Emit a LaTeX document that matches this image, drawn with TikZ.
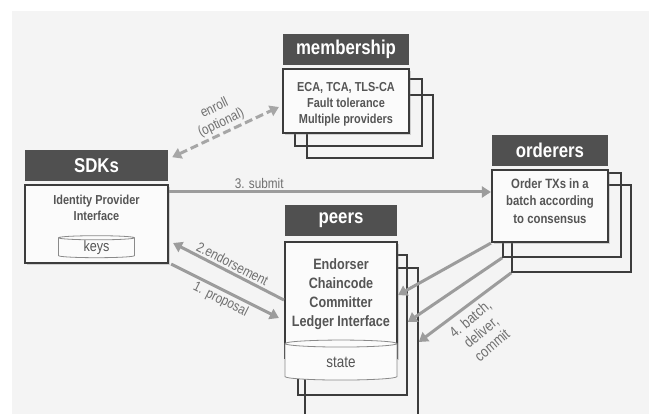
\documentclass[tikz,border=0pt]{standalone}
\usepackage{fontspec}
\setmainfont{Liberation Sans}[FakeStretch=0.84]
\usetikzlibrary{arrows.meta, positioning, calc, shapes.geometric, shadows, backgrounds}
\usepackage{xcolor}
\definecolor{bgGray}{HTML}{F4F4F4}
\definecolor{headGray}{HTML}{505050}
\definecolor{edgeGray}{HTML}{3C3C3C}
\definecolor{panelFill}{HTML}{FBFBFB}
\definecolor{textGray}{HTML}{555555}
\definecolor{arrowGray}{HTML}{9C9C9C}
\definecolor{labelGray}{HTML}{707070}
\definecolor{dbGray}{HTML}{8A8A8A}
\tikzset{
    panel/.style={rectangle, draw=edgeGray, line width=2.2pt, fill=panelFill, inner sep=0pt, drop shadow={shadow xshift=2pt, shadow yshift=-2pt, opacity=0.3}},
    header/.style={rectangle, fill=headGray, text=white, font=\bfseries\fontsize{20}{22}\selectfont, inner sep=0pt, minimum height=31pt},
    paneltext/.style={text=textGray, align=center, inner sep=0pt},
    layer/.style={rectangle, draw=edgeGray, line width=1.6pt, inner sep=0pt},
    db/.style={cylinder, shape border rotate=90, draw=dbGray, fill=panelFill, thick, inner sep=0pt, text=textGray},
    arrow/.style={-{Triangle[width=11pt,length=9pt]}, line width=3pt, draw=arrowGray},
    dashedbiarrow/.style={{Triangle[width=11pt,length=9pt]}-{Triangle[width=11pt,length=9pt]}, line width=3pt, draw=arrowGray!90, dash pattern=on 8pt off 4pt},
    tag/.style={text=labelGray, font=\fontsize{14}{16}\selectfont, align=center, inner sep=2pt},
}
\begin{document}
\begin{tikzpicture}[x=1pt, y=-1pt]
    \useasboundingbox (0,0) rectangle (649,414);

    % front panels
    \node[panel, minimum width=143pt, minimum height=78pt] (sdk) at (96.5,224) {};
    \node[header, minimum width=143pt, above=3pt of sdk] (sdkhead) {SDKs};
    \node[paneltext, font=\bfseries\fontsize{13}{16}\selectfont, below=11pt of sdk.north] (sdkinfo) {Identity Provider\\Interface};
    \node[db, minimum width=76pt, minimum height=22pt, aspect=0.16, font=\fontsize{15}{16}\selectfont, above=6pt of sdk.south] (keys) {keys};

    \node[panel, minimum width=126pt, minimum height=64pt] (mship) at (346,101) {};
    \node[header, minimum width=126pt, above=3pt of mship] (mshiphead) {membership};
    \node[paneltext, font=\bfseries\fontsize{13}{16}\selectfont] (mshipinfo) at ([yshift=-3pt]mship.center) {ECA, TCA, TLS-CA\\Fault tolerance\\Multiple providers};

    \node[panel, minimum width=116pt, minimum height=72pt] (ord) at (550,206) {};
    \node[header, minimum width=116pt, above=3pt of ord] (ordhead) {orderers};
    \node[paneltext, font=\bfseries\fontsize{13.5}{17.5}\selectfont] (ordinfo) at ([yshift=5pt]ord.center) {Order TXs in a\\batch according\\to consensus};

    \node[panel, minimum width=112pt, minimum height=116pt] (peers) at (341,300) {};
    \node[header, minimum width=112pt, above=5pt of peers] (peershead) {peers};
    \node[paneltext, font=\bfseries\fontsize{15}{19}\selectfont] (peersinfo) at ([yshift=6pt]peers.center) {Endorser\\Chaincode\\Committer\\Ledger Interface};
    \node[db, minimum width=112pt, minimum height=40pt, aspect=0.24, font=\fontsize{16}{17}\selectfont] (state) at (341,362) {state};

    % stacked copies and backdrop
    \begin{scope}[on background layer]
        \fill[bgGray] (12,11) rectangle (649,414);
        \node[layer, minimum width=126pt, minimum height=63pt] (mshipB) at ($(mship)+(24,25.5)$) {};
        \node[layer, minimum width=127pt, minimum height=67pt] (mshipA) at ($(mship)+(12.5,11.5)$) {};
        \node[layer, minimum width=119pt, minimum height=87pt] (ordB) at ($(ord)+(21.5,22.5)$) {};
        \node[layer, minimum width=118pt, minimum height=84pt] (ordA) at ($(ord)+(12,9)$) {};
        \node[layer, minimum width=113pt, minimum height=148pt] (peersB) at ($(peers)+(20.5,42)$) {};
        \node[layer, minimum width=109pt, minimum height=140pt] (peersA) at ($(peers)+(11.5,25)$) {};
    \end{scope}

    % connectors
    \coordinate (sub) at ([yshift=32pt]sdk.east);
    \draw[dashedbiarrow] ([xshift=4pt, yshift=8pt]sdkhead.east) -- ([xshift=-3pt, yshift=-6pt]mship.west)
        node[midway, above, sloped, tag] {enroll\\(optional)};
    \draw[arrow] (sub) -- (sub -| ord.west) node[pos=0.28, above, tag] {3. submit};
    \draw[arrow] (peers.west) -- ([xshift=4pt, yshift=-19pt]sdk.east)
        node[midway, above, sloped, tag] {2.endorsement};
    \draw[arrow] ([xshift=2pt]sdk.south east) -- ([xshift=-5pt, yshift=-18pt]peers.west)
        node[midway, below, sloped, tag] {1. proposal};
    \draw[arrow] (ord.south west) -- ([yshift=5pt]peers.east);
    \draw[arrow] (ordA.south west) -- ([yshift=3pt]peersA.east);
    \draw[arrow] (ordB.south west) -- (peersB.east);
    \node[tag, font=\fontsize{15}{17}\selectfont, rotate=40] (batchlbl) at (481,332) {4. batch,\\deliver,\\commit};
\end{tikzpicture}
\end{document}
